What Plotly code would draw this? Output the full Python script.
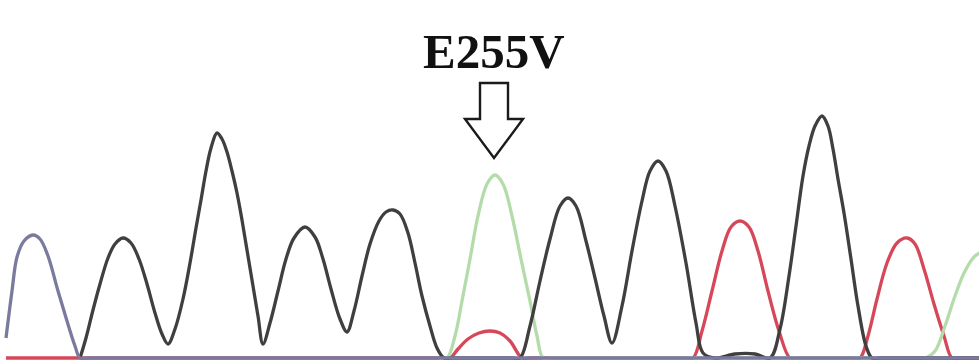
import plotly.graph_objects as go

# Sanger trace around codon 255: four dye channels, signal vs. scan position
slate_x = [6, 12, 17, 24, 33, 40, 48, 58, 67, 75, 80, 88, 970, 979]
slate_y = [20, 67, 101, 117, 123, 119, 102, 67, 37, 12, 0, 0, 0, 0]

dark_x = [80, 86, 93, 100, 108, 115, 123, 131, 139, 147, 155, 162, 168, 175, 183, 190,
          196, 201, 206, 211, 217, 222, 227, 232, 237, 242, 247, 253, 258, 263, 270, 278,
          286, 294, 305, 315, 323, 331, 340, 347, 354, 362, 370, 379, 386, 393, 400, 408,
          415, 422, 430, 437, 444, 452, 512, 520, 530, 540, 550, 560, 568, 576, 586, 595,
          604, 612, 622, 632, 642, 650, 658, 666, 675, 686, 696, 703, 715, 735, 755, 770,
          780, 789, 796, 803, 809, 815, 822, 828, 833, 838, 844, 851, 858, 866, 872, 880,
          979]
dark_y = [0, 20, 48, 74, 100, 114, 120, 115, 99, 74, 45, 24, 14, 29, 59, 95,
          130, 158, 187, 210, 225, 219, 206, 187, 165, 138, 108, 72, 42, 14, 35, 67,
          99, 120, 131, 121, 99, 69, 39, 26, 47, 82, 114, 137, 146, 148, 144, 125,
          95, 62, 32, 10, 0, 0, 0, 0, 32, 77, 119, 152, 160, 152, 117, 80,
          42, 15, 52, 107, 157, 187, 197, 187, 152, 95, 35, 5, 0, 4, 4, 0,
          29, 82, 132, 182, 212, 232, 242, 232, 209, 179, 145, 99, 52, 12, 0, 0,
          0]

red_x = [6, 442, 450, 458, 468, 479, 490, 500, 510, 522, 530, 685, 693, 702, 712, 722,
         731, 740, 749, 758, 768, 779, 790, 798, 852, 860, 868, 877, 887, 897, 907, 915,
         924, 934, 944, 952, 960, 979]
red_y = [0, 0, 0, 9, 19, 25, 27, 25, 17, 0, 0, 0, 0, 27, 67, 107,
         131, 137, 131, 107, 67, 27, 0, 0, 0, 0, 22, 59, 95, 115, 120, 114,
         89, 54, 22, 0, 0, 0]

green_x = [439, 447, 455, 462, 470, 478, 487, 495, 503, 512, 521, 530, 537, 543, 551,
           917, 925, 935, 945, 955, 965, 975, 985]
green_y = [0, 0, 22, 57, 99, 142, 174, 183, 174, 142, 99, 57, 22, 0, 0,
           0, 0, 7, 32, 62, 87, 102, 107]

mutation_label = "E255V"
mutation_pos = 494

fig = go.Figure()

channels = [
    (red_x, red_y, "#d6475a"),
    (green_x, green_y, "#b4dcaa"),
    (dark_x, dark_y, "#3f3f3f"),
    (slate_x, slate_y, "#7a7a9e"),
]
for xs, ys, col in channels:
    fig.add_trace(go.Scatter(
        x=xs, y=ys, mode="lines",
        line=dict(color=col, width=3.3, shape="spline", smoothing=1.0),
        hoverinfo="skip",
    ))

# hollow arrow pointing at the mutated peak
c = mutation_pos
fig.add_shape(
    type="path",
    path=(f"M {c-14},275 L {c+14},275 L {c+14},239 L {c+29},239 "
          f"L {c},200 L {c-29},239 L {c-14},239 Z"),
    xref="x", yref="y",
    line=dict(color="#1a1a1a", width=2.4),
    fillcolor="white",
)

fig.add_annotation(
    x=c, y=307, xref="x", yref="y",
    text=f"<b>{mutation_label}</b>",
    showarrow=False,
    font=dict(family="Liberation Serif", size=49, color="#111111"),
    xanchor="center", yanchor="middle",
)

fig.update_layout(
    width=979, height=360,
    margin=dict(l=0, r=0, t=0, b=0),
    paper_bgcolor="white", plot_bgcolor="white",
    showlegend=False,
    xaxis=dict(visible=False, range=[0, 979], fixedrange=True),
    yaxis=dict(visible=False, range=[-2, 358], fixedrange=True),
)

fig.write_html("out.html")
